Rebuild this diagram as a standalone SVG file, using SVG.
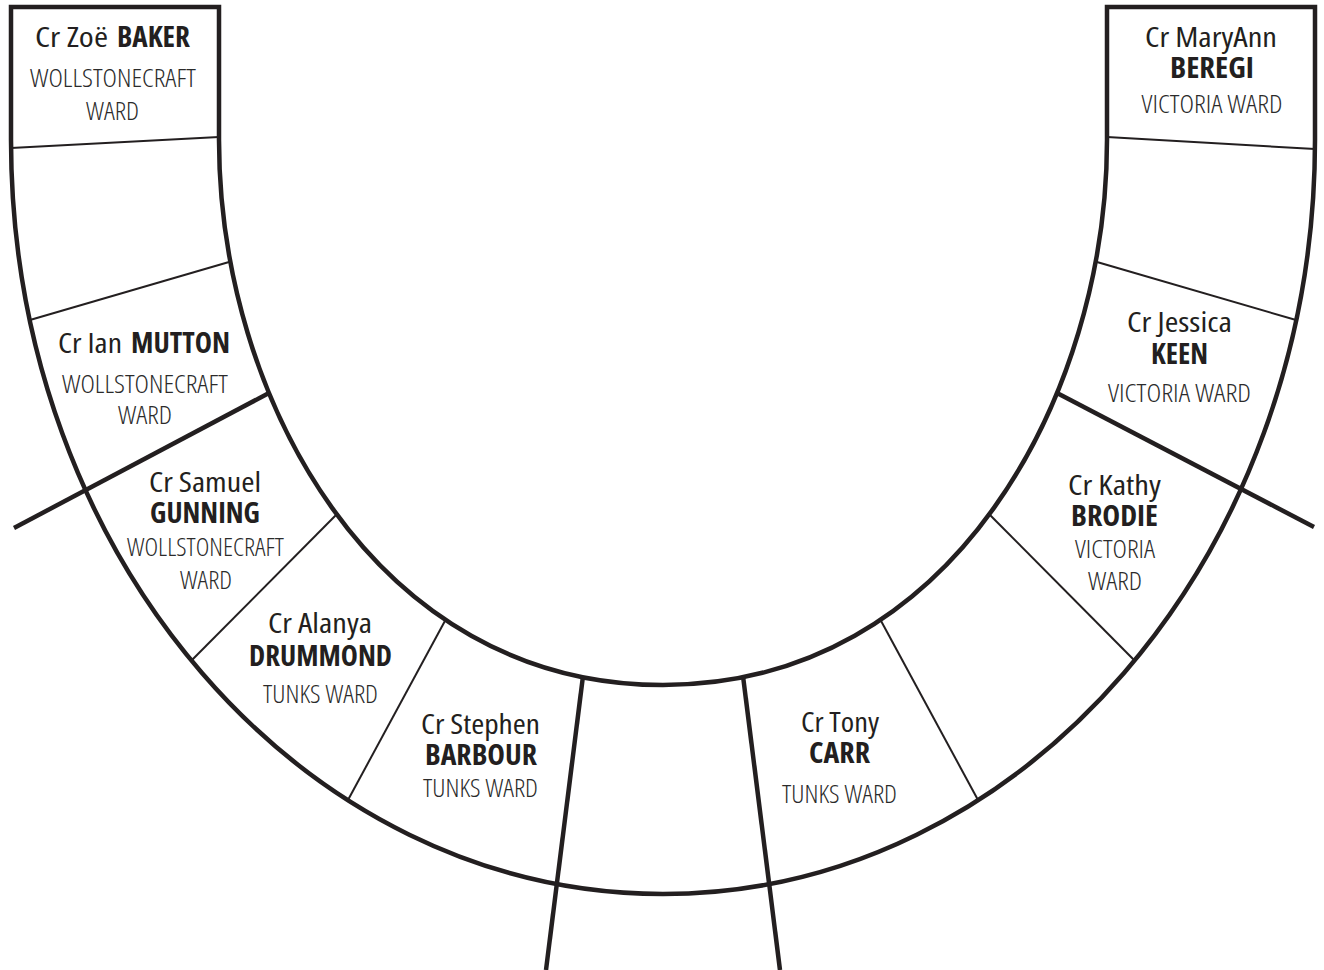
<svg xmlns="http://www.w3.org/2000/svg" width="1324" height="970" viewBox="0 0 1324 970">
<style>
.bg{fill:#ffffff}
.edge{fill:none;stroke:#231f20;stroke-width:4.5;stroke-linejoin:miter}
.thick{fill:none;stroke:#231f20;stroke-width:4.5;stroke-linecap:butt}
.thin{fill:none;stroke:#231f20;stroke-width:2}
text{fill:#231f20;font-family:"Open Sans","Liberation Sans Narrow","Liberation Sans",sans-serif;font-stretch:75%}
.nm{font-size:28px;font-weight:400;text-anchor:middle}
.nms{font-size:28px;font-weight:400}
.b{font-weight:700}
.wd{font-size:25px;font-weight:300;text-anchor:middle;fill:#2b2b2b}
</style>
<rect class="bg" x="0" y="0" width="1324" height="970"/>
<g id="frame">
  <path class="edge" d="M219 7 H11 V140 C11 556 303 894 663 894 C1023 894 1315 556 1315 140 V7 H1107 V140 C1107 395 953 685 663 685 C373 685 219 395 219 140 Z"/>
</g>
<g id="connectors">
  <line class="thin" x1="11" y1="148" x2="219" y2="137"/>
  <line class="thin" x1="30" y1="320" x2="229" y2="262"/>
  <line class="thick" x1="14" y1="528" x2="269" y2="393"/>
  <line class="thin" x1="191" y1="661" x2="338" y2="513"/>
  <line class="thin" x1="348" y1="800" x2="446" y2="619"/>
  <line class="thick" x1="583" y1="676" x2="546" y2="970"/>
  <line class="thick" x1="743" y1="676" x2="780" y2="970"/>
  <line class="thin" x1="880" y1="619" x2="978" y2="800"/>
  <line class="thin" x1="988" y1="513" x2="1135" y2="661"/>
  <line class="thick" x1="1057" y1="393" x2="1314" y2="527"/>
  <line class="thin" x1="1097" y1="262" x2="1296" y2="320"/>
  <line class="thin" x1="1107" y1="137" x2="1315" y2="149"/>
</g>
<g id="seat-baker">
  <text class="nms" y="47"><tspan x="35" textLength="73" lengthAdjust="spacingAndGlyphs">Cr Zoë</tspan> <tspan class="b" x="117" textLength="73" lengthAdjust="spacingAndGlyphs">BAKER</tspan></text>
  <text class="wd" x="113" y="87" textLength="166" lengthAdjust="spacingAndGlyphs">WOLLSTONECRAFT</text>
  <text class="wd" x="112.5" y="120" textLength="53" lengthAdjust="spacingAndGlyphs">WARD</text>
</g>
<g id="seat-beregi">
  <text class="nm" x="1211" y="47" textLength="132" lengthAdjust="spacingAndGlyphs">Cr MaryAnn</text>
  <text class="nm b" x="1212" y="78" textLength="84" lengthAdjust="spacingAndGlyphs">BEREGI</text>
  <text class="wd" x="1212" y="113" textLength="141" lengthAdjust="spacingAndGlyphs">VICTORIA WARD</text>
</g>
<g id="seat-mutton">
  <text class="nms" y="353"><tspan x="58" textLength="64" lengthAdjust="spacingAndGlyphs">Cr Ian</tspan> <tspan class="b" x="131" textLength="99" lengthAdjust="spacingAndGlyphs">MUTTON</tspan></text>
  <text class="wd" x="145" y="393" textLength="166" lengthAdjust="spacingAndGlyphs">WOLLSTONECRAFT</text>
  <text class="wd" x="145" y="424" textLength="54" lengthAdjust="spacingAndGlyphs">WARD</text>
</g>
<g id="seat-keen">
  <text class="nm" x="1179.5" y="332" textLength="105" lengthAdjust="spacingAndGlyphs">Cr Jessica</text>
  <text class="nm b" x="1179.5" y="364" textLength="57" lengthAdjust="spacingAndGlyphs">KEEN</text>
  <text class="wd" x="1179.5" y="402" textLength="143" lengthAdjust="spacingAndGlyphs">VICTORIA WARD</text>
</g>
<g id="seat-gunning">
  <text class="nm" x="205" y="492" textLength="112" lengthAdjust="spacingAndGlyphs">Cr Samuel</text>
  <text class="nm b" x="205" y="523" textLength="110" lengthAdjust="spacingAndGlyphs">GUNNING</text>
  <text class="wd" x="205.5" y="556" textLength="157" lengthAdjust="spacingAndGlyphs">WOLLSTONECRAFT</text>
  <text class="wd" x="206" y="589" textLength="52" lengthAdjust="spacingAndGlyphs">WARD</text>
</g>
<g id="seat-brodie">
  <text class="nm" x="1114.5" y="495" textLength="93" lengthAdjust="spacingAndGlyphs">Cr Kathy</text>
  <text class="nm b" x="1114.5" y="526" textLength="87" lengthAdjust="spacingAndGlyphs">BRODIE</text>
  <text class="wd" x="1115" y="558" textLength="80" lengthAdjust="spacingAndGlyphs">VICTORIA</text>
  <text class="wd" x="1115" y="590" textLength="54" lengthAdjust="spacingAndGlyphs">WARD</text>
</g>
<g id="seat-drummond">
  <text class="nm" x="320" y="633" textLength="104" lengthAdjust="spacingAndGlyphs">Cr Alanya</text>
  <text class="nm b" x="320.5" y="666" textLength="143" lengthAdjust="spacingAndGlyphs">DRUMMOND</text>
  <text class="wd" x="320.5" y="703" textLength="115" lengthAdjust="spacingAndGlyphs">TUNKS WARD</text>
</g>
<g id="seat-barbour">
  <text class="nm" x="480.5" y="734" textLength="119" lengthAdjust="spacingAndGlyphs">Cr Stephen</text>
  <text class="nm b" x="481" y="765" textLength="112" lengthAdjust="spacingAndGlyphs">BARBOUR</text>
  <text class="wd" x="480.5" y="797" textLength="115" lengthAdjust="spacingAndGlyphs">TUNKS WARD</text>
</g>
<g id="seat-carr">
  <text class="nm" x="840" y="732" textLength="78" lengthAdjust="spacingAndGlyphs">Cr Tony</text>
  <text class="nm b" x="839.5" y="763" textLength="61" lengthAdjust="spacingAndGlyphs">CARR</text>
  <text class="wd" x="839.5" y="803" textLength="115" lengthAdjust="spacingAndGlyphs">TUNKS WARD</text>
</g>
</svg>
